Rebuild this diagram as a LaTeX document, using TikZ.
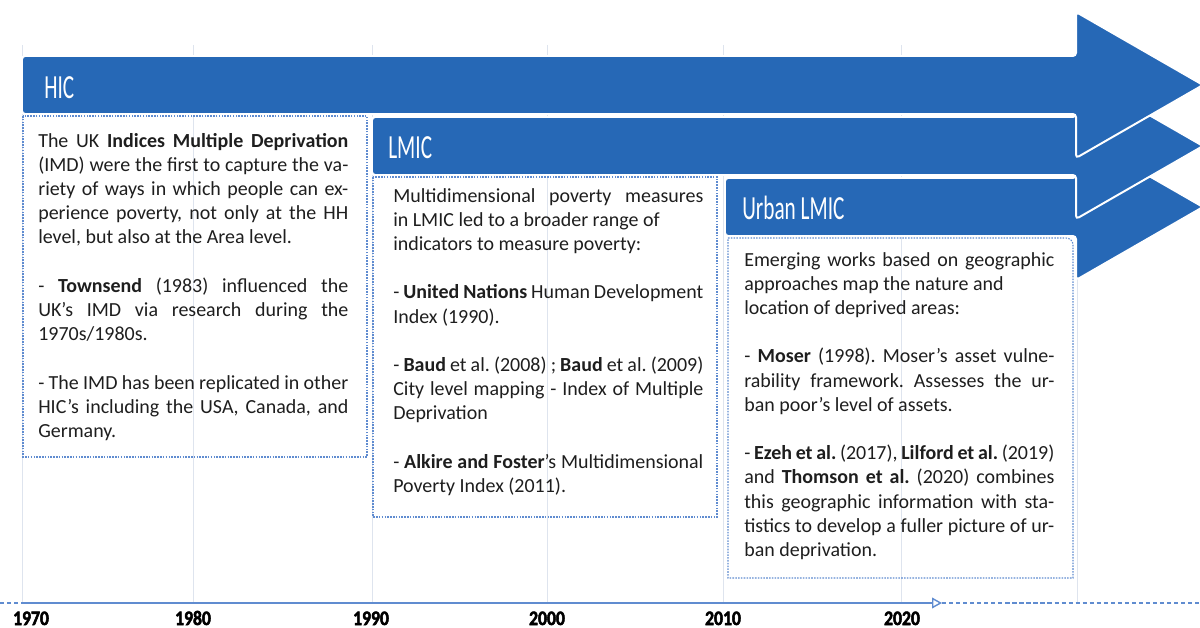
\documentclass[tikz,border=0pt]{standalone}
\usepackage{fontspec}
\setmainfont{Carlito}
\newfontfamily\headfont[FakeStretch=0.63]{Carlito}
\newfontfamily\yearfont[FakeStretch=0.86,FakeBold=2.5]{Carlito Bold}
\usetikzlibrary{arrows.meta}

\definecolor{arrowblue}{RGB}{38,104,182}
\definecolor{boxblue}{RGB}{96,140,208}
\definecolor{gridgray}{RGB}{222,228,238}
\definecolor{textgray}{RGB}{30,30,30}
\setlength{\parindent}{0pt}
\newcommand{\blankline}{\par\vspace{\baselineskip}}

\begin{document}
\begin{tikzpicture}[x=0.025cm, y=-0.025cm,
  band/.style={fill=arrowblue, draw=white, line width=1.4pt, rounded corners=0.08cm},
  boxline/.style={draw=boxblue, line width=0.8pt, dash pattern=on 1.1pt off 0.9pt},
  grid/.style={draw=gridgray, line width=0.6pt},
  timeline/.style={draw=boxblue, line width=1pt},
  heading/.style={font=\headfont\fontsize{24}{28}\selectfont, text=white, anchor=base west, inner sep=0pt},
  boxtext/.style={font=\fontsize{14.2}{17.2}\selectfont\frenchspacing, text=textgray, text width=7.75cm, align=justify, anchor=north west, inner sep=0pt},
  year/.style={font=\yearfont\fontsize{14.6}{17}\selectfont, anchor=base, inner sep=0pt}]

\useasboundingbox (0,0) rectangle (1200,628);
\clip (0,0) rectangle (1200,628);

% decades
\foreach \gx in {22,193,372,547,723,901,1077}
  \draw[grid] (\gx,45) -- (\gx,603);

% the three arrows, last one on top
\foreach \lx/\cy in {725/207, 372/146, 22/85}
  \draw[band] (\lx,\cy-29) -- (1076,\cy-29) -- (1076,\cy-73) -- (1203,\cy)
    -- (1076,\cy+73) -- (1076,\cy+29) -- (\lx,\cy+29) -- cycle;

\node[heading] (hic) at (44,99) {HIC};
\node[heading] (lmic) at (388,159) {LMIC};
\node[heading] (ulmic) at (742,220) {Urban LMIC};

%	boxes
\draw[boxline] (23,116) rectangle (367,457);
\draw[boxline] (373,177) rectangle (717,517);
\draw[boxline] (728,238) -- (1066,238) arc[start angle=90, end angle=0, radius=0.175cm]
  -- (1073,578) -- (728,578) -- cycle;

\node[boxtext] (hictext) at (38,130) {\strut The UK \textbf{Indices Multiple Deprivation}\linebreak
(IMD) were the first to capture the va-\linebreak
riety of ways in which people can ex-\linebreak
perience poverty, not only at the HH\linebreak
level, but also at the Area level.\blankline
- \textbf{Townsend} (1983) influenced the\linebreak
UK's IMD via research during the\linebreak
1970s/1980s.\blankline
- The IMD has been replicated in other\linebreak
HIC's including the USA, Canada, and\linebreak
Germany.};

\node[boxtext] (lmictext) at (393,185) {\strut Multidimensional poverty measures\linebreak
in LMIC led to a broader range of\newline
indicators to measure poverty:\blankline
- \textbf{United Nations} Human Development\linebreak
Index (1990).\blankline
- \textbf{Baud} et al. (2008) ; \textbf{Baud} et al. (2009)\linebreak
City level mapping - Index of Multiple\linebreak
Deprivation\blankline
- \textbf{Alkire and Foster}'s Multidimensional\linebreak
Poverty Index (2011).};

\node[boxtext] (ulmictext) at (744,249) {\strut Emerging works based on geographic\linebreak
approaches map the nature and\newline
location of deprived areas:\blankline
- \textbf{Moser} (1998). Moser's asset vulne-\linebreak
rability framework. Assesses the ur-\linebreak
ban poor's level of assets.\blankline
- \textbf{Ezeh et al.} (2017), \textbf{Lilford et al.} (2019)\linebreak
and \textbf{Thomson et al.} (2020) combines\linebreak
this geographic information with sta-\linebreak
tistics to develop a fuller picture of ur-\linebreak
ban deprivation.};

% time axis
\coordinate (t0) at (0,603);
\coordinate (t1) at (22,603);
\coordinate (t2) at (942,603);
\coordinate (t3) at (1200,603);
\draw[timeline, dash pattern=on 3pt off 2pt] (t0) -- (t1);
\draw[timeline, -{Triangle[open, length=0.25cm, width=0.27cm]}] (t1) -- (t2);
\draw[timeline, dash pattern=on 3pt off 2pt] (t2) -- (t3);

\foreach \lx/\yr in {31/1970, 193/1980, 371/1990, 547/2000, 723/2010, 902/2020}
  \node[year] (y\yr) at (\lx,625) {\yr};

\end{tikzpicture}
\end{document}
